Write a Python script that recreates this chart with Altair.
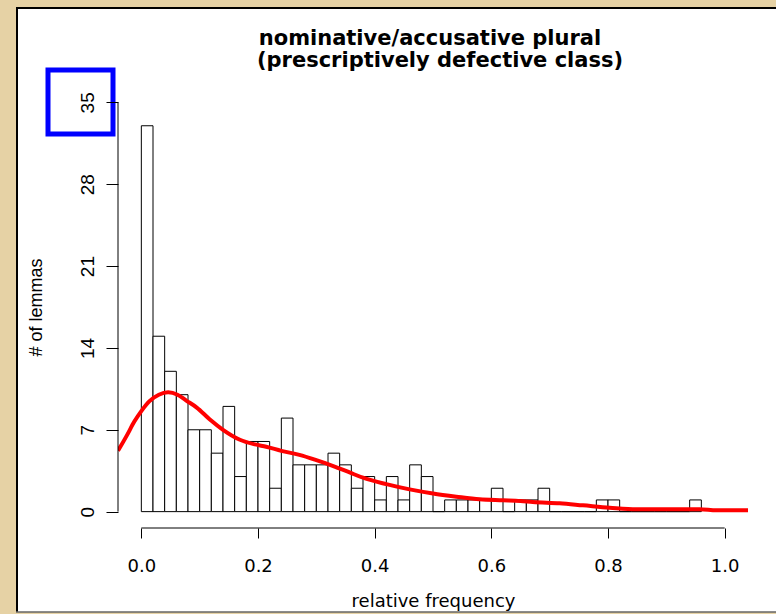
import altair as alt
import pandas as pd

# Histogram of relative frequency (bin width 0.02, breaks 0 .. 0.96)
bin_width = 0.02
counts = [33, 15, 12, 10, 7, 7, 5, 9, 3, 6,
          6, 2, 8, 4, 4, 4, 5, 4, 2, 3,
          1, 3, 1, 4, 3, 0, 1, 1, 1, 1,
          2, 0, 1, 1, 2, 0, 0, 0, 0, 1,
          1, 0, 0, 0, 0, 0, 0, 1]
bin_start = [round(i * bin_width, 2) for i in range(len(counts))]
bin_end = [round(s + bin_width, 2) for s in bin_start]

# Kernel density estimate, scaled to counts
dens_x = [-0.040, -0.025, -0.012, 0.000, 0.014, 0.030, 0.046, 0.062, 0.077,
          0.095, 0.117, 0.140, 0.169, 0.195, 0.214, 0.240, 0.271, 0.300,
          0.329, 0.357, 0.380, 0.420, 0.460, 0.500, 0.540, 0.580, 0.620,
          0.650, 0.671, 0.717, 0.757, 0.803, 0.849, 0.900, 0.957, 0.986, 1.043]
dens_y = [5.2, 6.5, 7.7, 8.6, 9.45, 10.0, 10.2, 10.0, 9.5,
          8.9, 7.9, 7.0, 6.15, 5.75, 5.55, 5.2, 4.85, 4.4,
          3.9, 3.35, 2.9, 2.35, 1.9, 1.55, 1.28, 1.05, 0.97,
          0.91, 0.82, 0.71, 0.54, 0.34, 0.2, 0.2, 0.2, 0.11, 0.11]

x_ticks = [0.0, 0.2, 0.4, 0.6, 0.8, 1.0]
y_ticks = [0, 7, 14, 21, 28, 35]

title_line1 = "nominative/accusative plural"
title_line2 = "(prescriptively defective class)"
x_title = "relative frequency"
y_title = "# of lemmas"

W, H = 630, 442
x_dom = [-0.04, 1.04]
y_dom = [-1.4, 36.4]

bars_df = pd.DataFrame({"start": bin_start, "end": bin_end, "count": counts})
dens_df = pd.DataFrame({"x": dens_x, "y": dens_y})
one = pd.DataFrame({"k": [0]})

xs = alt.Scale(domain=x_dom, nice=False, zero=False)
ys = alt.Scale(domain=y_dom, nice=False, zero=False)

x_axis = alt.Axis(values=x_ticks, format=".1f", domain=False, grid=False, zindex=2,
                  tickSize=10, tickColor="black", tickWidth=1,
                  labelFont="DejaVu Sans", labelFontSize=18, labelColor="black",
                  labelPadding=19, labelFlush=False,
                  titleFont="DejaVu Sans", titleFontSize=18, titleFontWeight="normal",
                  titleColor="black", titleX=315, titleY=73,
                  titleBaseline="middle", titleAlign="center")
y_axis = alt.Axis(values=y_ticks, domain=False, grid=False, zindex=2,
                  tickSize=12, tickColor="black", tickWidth=1,
                  labelAngle=270, labelAlign="center", labelBaseline="middle",
                  labelFont="Liberation Sans", labelFontSize=19, labelColor="black",
                  labelPadding=19, labelFlush=False,
                  titleFont="Liberation Sans", titleFontSize=18, titleFontWeight="normal",
                  titleColor="black", titleAngle=270, titleX=-82, titleY=221,
                  titleBaseline="middle", titleAlign="center")

# white panel with a dark frame on the parchment
panel = alt.Chart(one).mark_rect(fill="white", strokeWidth=0).encode(
    x=alt.value(-102), x2=alt.value(700), y=alt.value(-79), y2=alt.value(526))
frame_left = alt.Chart(one).mark_rule(color="black", strokeWidth=2).encode(
    x=alt.value(-101), y=alt.value(-79), y2=alt.value(526))
frame_top = alt.Chart(one).mark_rule(color="black", strokeWidth=2).encode(
    x=alt.value(-102), x2=alt.value(700), y=alt.value(-78))
frame_bottom = alt.Chart(one).mark_rule(color="#666666", strokeWidth=1.5).encode(
    x=alt.value(-102), x2=alt.value(700), y=alt.value(526))

bars = alt.Chart(bars_df).mark_rect(fill="white", stroke="black", strokeWidth=1).encode(
    x=alt.X("start:Q", scale=xs, title=x_title, axis=x_axis),
    x2="end:Q",
    y=alt.Y("count:Q", scale=ys, title=y_title, axis=y_axis),
    y2=alt.datum(0),
)

density = alt.Chart(dens_df).mark_line(color="#FF0000", strokeWidth=4,
                                       interpolate="monotone", clip=True).encode(
    x=alt.X("x:Q", scale=xs, title=x_title, axis=x_axis),
    y=alt.Y("y:Q", scale=ys, title=y_title, axis=y_axis),
)

# axis lines spanning only the tick range, as in base R graphics
x_axis_line = alt.Chart(pd.DataFrame({"a": [x_ticks[0]], "b": [x_ticks[-1]]})).mark_rule(
    color="black", strokeWidth=1).encode(
    x=alt.X("a:Q", scale=xs, title=x_title, axis=x_axis), x2="b:Q", y=alt.value(H))
y_axis_line = alt.Chart(pd.DataFrame({"a": [y_ticks[0]], "b": [y_ticks[-1]]})).mark_rule(
    color="black", strokeWidth=1).encode(
    y=alt.Y("a:Q", scale=ys, title=y_title, axis=y_axis), y2="b:Q", x=alt.value(0))

# two-line bold title
title_style = dict(font="DejaVu Sans", fontSize=21, fontWeight="bold", color="black",
                   align="center", baseline="alphabetic")
title1 = alt.Chart(one).mark_text(text=title_line1, **title_style).encode(
    x=alt.value(312), y=alt.value(-41))
title2 = alt.Chart(one).mark_text(text=title_line2, **title_style).encode(
    x=alt.value(322), y=alt.value(-19))

# blue highlight box around the top y label
highlight = alt.Chart(one).mark_rect(fillOpacity=0, stroke="#0000FF", strokeWidth=5).encode(
    x=alt.value(-70), x2=alt.value(-5), y=alt.value(-16), y2=alt.value(48))

chart = alt.layer(
    panel, frame_left, frame_top, frame_bottom,
    bars, density, x_axis_line, y_axis_line, title1, title2, highlight,
).properties(
    width=W, height=H,
    padding={"left": 118, "top": 86, "right": 28, "bottom": 86},
    autosize=alt.AutoSizeParams(type="none"),
    background="#E6D2A5",
).configure_view(stroke=None)

chart.save("out.html", embed_options={"renderer": "svg", "actions": False})
